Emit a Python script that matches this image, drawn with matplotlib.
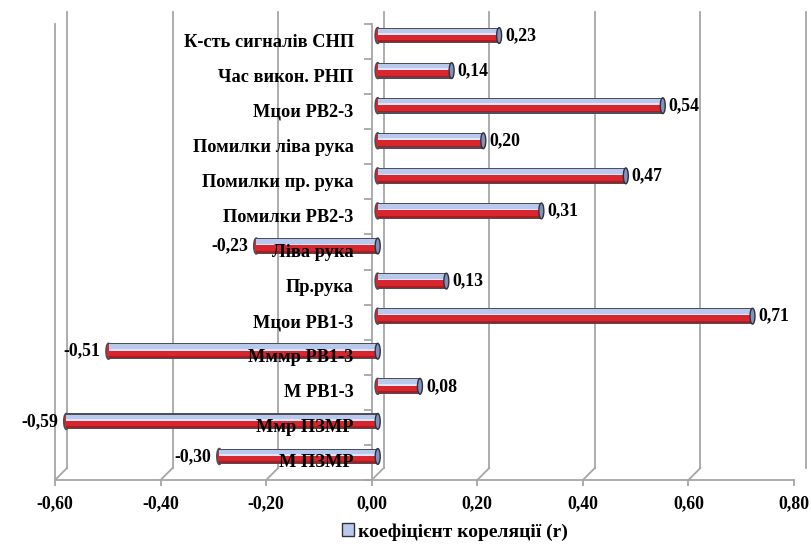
import matplotlib
matplotlib.use("Agg")
import matplotlib.pyplot as plt
from matplotlib.transforms import ScaledTranslation
from matplotlib.patches import Ellipse, Patch
from matplotlib.lines import Line2D
from matplotlib.markers import TICKLEFT

# Categories listed from top to bottom
categories = [
    "К-сть сигналів СНП",
    "Час викон. РНП",
    "Мцои РВ2-3",
    "Помилки ліва рука",
    "Помилки пр. рука",
    "Помилки РВ2-3",
    "Ліва рука",
    "Пр.рука",
    "Мцои РВ1-3",
    "Мммр РВ1-3",
    "М РВ1-3",
    "Ммр ПЗМР",
    "М ПЗМР",
]
values = [0.23, 0.14, 0.54, 0.20, 0.47, 0.31, -0.23, 0.13, 0.71, -0.51, 0.08, -0.59, -0.30]
x_ticks = [-0.6, -0.4, -0.2, 0.0, 0.2, 0.4, 0.6, 0.8]
legend_label = "коефіцієнт кореляції (r)"

FONT = "Liberation Serif"
FS = 12.8
W, H, DPI = 811, 549, 100

fig = plt.figure(figsize=(W / DPI, H / DPI), dpi=DPI)
# front plane of the pseudo-3D box
ax = fig.add_axes([55 / W, (H - 480) / H, (794 - 55) / W, (480 - 24) / H])
n = len(categories)
ypos = [n - 1 - i for i in range(n)]
ax.set_xlim(x_ticks[0], x_ticks[-1])
ax.set_ylim(-0.5, n - 0.5)
ax.patch.set_visible(False)

grid_c = "#a6a6a6"
for s in ("top", "right"):
    ax.spines[s].set_visible(False)
ax.spines["bottom"].set_color(grid_c)
ax.spines["left"].set_color(grid_c)
ax.spines["bottom"].set_linewidth(1.3)
ax.spines["left"].set_linewidth(1.3)
ax.set_xticks(x_ticks)
ax.set_xticklabels([f"{t:.2f}".replace(".", ",") for t in x_ticks],
                   fontfamily=FONT, fontweight="bold", fontsize=FS)
ax.tick_params(axis="x", length=4, color=grid_c, width=1.3, pad=7)
ax.set_yticks([])

def px(dx, dy):
    return ScaledTranslation(dx / DPI, dy / DPI, fig.dpi_scale_trans)

back = ax.transData + px(12, 12)
mid = ax.transData + px(6, 6)
ylo, yhi = -0.5, n - 0.5

# back-wall gridlines and floor diagonals
for t in x_ticks:
    ax.plot([t, t], [ylo, yhi], color=grid_c, lw=1.3, transform=back,
            clip_on=False, zorder=1)
    p0 = ax.transData.transform((t, ylo))
    ax.add_line(Line2D([p0[0], p0[0] + 12], [p0[1], p0[1] + 12],
                       transform=None, color=grid_c, lw=1.3, zorder=1))
# top edge of the left wall
p0 = ax.transData.transform((x_ticks[0], yhi))
ax.add_line(Line2D([p0[0], p0[0] + 12], [p0[1], p0[1] + 12],
                   transform=None, color=grid_c, lw=1.3, zorder=1))

# category axis with tick marks between categories
ax.plot([0, 0], [ylo, yhi], color=grid_c, lw=1.3, clip_on=False, zorder=1)
bounds = [k + 0.5 for k in range(-1, n)]
ax.plot([0] * len(bounds), bounds, ls="none", marker=TICKLEFT, ms=6,
        mew=1.3, color=grid_c, clip_on=False, zorder=1)

# cylinder bars
edge_c = "#4e4e58"
blue_c = "#b9c9ee"
hl_c = "#dfe6f7"
red_c = "#d8262f"
dred_c = "#a81c24"
cap_c = "#7f92bc"
bh = 0.45
cap_w = 5 / ((794 - 55) / (x_ticks[-1] - x_ticks[0]))

for y, v in zip(ypos, values):
    x0, x1 = min(0, v), max(0, v)
    # rounded left end
    ax.add_patch(Ellipse((x0, y), cap_w, bh, transform=mid, facecolor=red_c,
                         edgecolor=edge_c, lw=1.2, zorder=3))
    layers = [
        (-bh / 2, bh, edge_c),
        (0.06, 0.135, blue_c),
        (0.02, 0.045, hl_c),
        (-0.19, 0.21, red_c),
        (-0.19, 0.05, dred_c),
    ]
    for off, h, c in layers:
        b = ax.barh(y + off, x1 - x0, left=x0, height=h, align="edge",
                    color=c, linewidth=0, zorder=3)
        for r in b:
            r.set_transform(mid)
    ax.add_patch(Ellipse((x1, y), cap_w, bh, transform=mid, facecolor=cap_c,
                         edgecolor="#30303a", lw=1.0, zorder=4))
    label = f"{v:.2f}".replace(".", ",")
    if v >= 0:
        ax.text(v, y, label, transform=mid + px(6, 0), ha="left", va="center",
                fontfamily=FONT, fontweight="bold", fontsize=FS, zorder=5)
    else:
        ax.text(v, y, label, transform=mid + px(-8, 0), ha="right", va="center",
                fontfamily=FONT, fontweight="bold", fontsize=FS, zorder=5)

# category labels on the front plane
for y, c in zip(ypos, categories):
    ax.text(0, y, c, transform=ax.transData + px(-18, -5), ha="right",
            va="baseline", fontfamily=FONT, fontweight="bold", fontsize=13.2,
            zorder=6)

handle = Patch(facecolor=blue_c, edgecolor="#30303a", linewidth=1.0)
fig.legend(handles=[handle], labels=[legend_label], loc="center",
           bbox_to_anchor=(455 / W, 1 - 532 / H), frameon=False,
           handlelength=0.65, handleheight=0.65, handletextpad=0.2,
           prop={"family": FONT, "weight": "bold", "size": 14})

fig.savefig("out.png", dpi=DPI)
